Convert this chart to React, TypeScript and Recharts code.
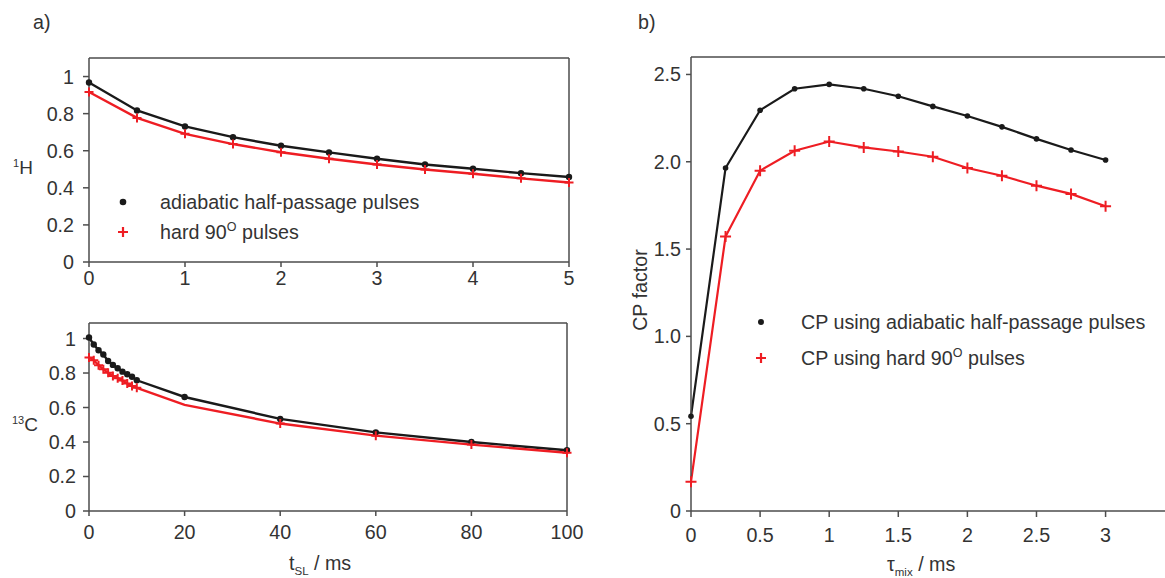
import React from "react";
import { LineChart, Line, XAxis, YAxis, ReferenceLine, Legend } from "recharts";

// a) upper panel, 1H
const tH = [0, 0.5, 1, 1.5, 2, 2.5, 3, 3.5, 4, 4.5, 5];
const hAdiabatic = [0.968, 0.817, 0.731, 0.673, 0.627, 0.591, 0.557, 0.526, 0.503, 0.479, 0.458];
const hHard = [0.917, 0.777, 0.691, 0.636, 0.592, 0.557, 0.526, 0.499, 0.476, 0.451, 0.429];
const hTicksX = [0, 1, 2, 3, 4, 5];
const aTicksY = [0, 0.2, 0.4, 0.6, 0.8, 1];

// a) lower panel, 13C
const tC = [0, 1, 2, 3, 4, 5, 6, 7, 8, 9, 10, 20, 40, 60, 80, 100];
const cAdiabatic = [1.006, 0.965, 0.932, 0.907, 0.87, 0.847, 0.828, 0.808, 0.793, 0.778, 0.758, 0.661, 0.534, 0.456, 0.4, 0.352];
const cHard = [0.89, 0.874, 0.845, 0.822, 0.801, 0.783, 0.77, 0.756, 0.739, 0.725, 0.714, 0.615, 0.507, 0.437, 0.385, 0.338];
const cTicksX = [0, 20, 40, 60, 80, 100];

// b) CP factor
const tMix = [0, 0.25, 0.5, 0.75, 1, 1.25, 1.5, 1.75, 2, 2.25, 2.5, 2.75, 3];
const cpAdiabatic = [0.543, 1.964, 2.295, 2.418, 2.443, 2.418, 2.375, 2.317, 2.262, 2.2, 2.131, 2.067, 2.01];
const cpHard = [0.168, 1.572, 1.949, 2.063, 2.116, 2.082, 2.059, 2.029, 1.964, 1.92, 1.863, 1.816, 1.745];
const bTicksX = [0, 0.5, 1, 1.5, 2, 2.5, 3];
const bTicksY = [0, 0.5, 1, 1.5, 2, 2.5];

const dataH = tH.map((t, i) => ({ t, adiabatic: hAdiabatic[i], hard: hHard[i] }));
const dataC = tC.map((t, i) => ({ t, adiabatic: cAdiabatic[i], hard: cHard[i] }));
const dataB = tMix.map((t, i) => ({ t, adiabatic: cpAdiabatic[i], hard: cpHard[i] }));

const BLACK = "#1a1a1a";
const RED = "#ee1d23";
const AXIS = "#4d4d4d";
const FONT = "'Liberation Sans', Arial, sans-serif";
const FS = 19.7;
const tickStyle = { fontSize: FS, fill: "#333", fontFamily: FONT };

const dotRenderer = (r: number) => (props: any) => {
  const { cx, cy, index } = props;
  if (cx == null || cy == null) return <g key={`d${index}`} />;
  return <circle key={`d${index}`} cx={cx} cy={cy} r={r} fill={BLACK} />;
};

const plusRenderer = (s: number, skip: number[] = []) => (props: any) => {
  const { cx, cy, index, payload } = props;
  if (cx == null || cy == null || skip.includes(payload.t)) return <g key={`p${index}`} />;
  return (
    <path
      key={`p${index}`}
      d={`M${cx - s},${cy}H${cx + s}M${cx},${cy - s}V${cy + s}`}
      stroke={RED}
      strokeWidth={2}
      fill="none"
    />
  );
};

function LegendBox({ rowGap, textX, big }: { rowGap: number; textX: number; big?: boolean }) {
  const y1 = 17;
  const y2 = y1 + rowGap;
  return (
    <svg width={420} height={y2 + 20} style={{ overflow: "visible" }}>
      <circle cx={13} cy={y1} r={big ? 3 : 3.3} fill={BLACK} />
      <path d={`M${13 - 5},${y2}H${13 + 5}M13,${y2 - 5}V${y2 + 5}`} stroke={RED} strokeWidth={2.2} />
      <text x={textX} y={y1 + 7} fontSize={FS} fill="#333" fontFamily={FONT}>
        {big ? "CP using adiabatic half-passage pulses" : "adiabatic half-passage pulses"}
      </text>
      <text x={textX} y={y2 + 7} fontSize={FS} fill="#333" fontFamily={FONT}>
        {big ? "CP using hard 90" : "hard 90"}
        <tspan fontSize={12.5} dy={-8}>O</tspan>
        <tspan dy={8}> pulses</tspan>
      </text>
    </svg>
  );
}

export default function App() {
  return (
    <div
      style={{
        position: "absolute",
        left: 0,
        top: 0,
        width: 1165,
        height: 578,
        overflow: "hidden",
        background: "#fff",
        fontFamily: FONT,
      }}
    >
      {/* a) 1H */}
      <div style={{ position: "absolute", left: 0, top: 0 }}>
        <LineChart width={600} height={300} data={dataH} margin={{ top: 58, right: 31, left: 0, bottom: 0 }}>
          <XAxis
            dataKey="t"
            type="number"
            domain={[0, 5]}
            ticks={hTicksX}
            interval={0}
            height={38}
            tickSize={5}
            tickMargin={4}
            tick={tickStyle}
            axisLine={{ stroke: AXIS, strokeWidth: 1.5 }}
            tickLine={{ stroke: AXIS, strokeWidth: 1.5 }}
          />
          <YAxis
            type="number"
            domain={[0, 1.1]}
            ticks={aTicksY}
            interval={0}
            width={89}
            tickSize={6}
            tickMargin={9}
            tick={tickStyle}
            axisLine={{ stroke: AXIS, strokeWidth: 1.5 }}
            tickLine={{ stroke: AXIS, strokeWidth: 1.5 }}
          />
          <ReferenceLine y={1.1} stroke={AXIS} strokeWidth={1.5} />
          <ReferenceLine x={5} stroke={AXIS} strokeWidth={1.5} />
          <Line
            dataKey="adiabatic"
            stroke={BLACK}
            strokeWidth={2.4}
            dot={dotRenderer(3.2)}
            activeDot={false}
            isAnimationActive={false}
          />
          <Line
            dataKey="hard"
            stroke={RED}
            strokeWidth={2.4}
            dot={plusRenderer(4.5)}
            activeDot={false}
            isAnimationActive={false}
          />
          <Legend
            layout="vertical"
            align="center"
            verticalAlign="middle"
            wrapperStyle={{ left: 110, top: 185, width: 420 }}
            content={() => <LegendBox rowGap={30} textX={50} />}
          />
        </LineChart>
      </div>

      {/* a) 13C */}
      <div style={{ position: "absolute", left: 0, top: 300 }}>
        <LineChart width={600} height={278} data={dataC} margin={{ top: 23, right: 33, left: 0, bottom: 0 }}>
          <XAxis
            dataKey="t"
            type="number"
            domain={[0, 100]}
            ticks={cTicksX}
            interval={0}
            height={67}
            tickSize={5}
            tickMargin={9}
            tick={tickStyle}
            axisLine={{ stroke: AXIS, strokeWidth: 1.5 }}
            tickLine={{ stroke: AXIS, strokeWidth: 1.5 }}
          />
          <YAxis
            type="number"
            domain={[0, 1.09]}
            ticks={aTicksY}
            interval={0}
            width={89}
            tickSize={6}
            tickMargin={7}
            tick={tickStyle}
            axisLine={{ stroke: AXIS, strokeWidth: 1.5 }}
            tickLine={{ stroke: AXIS, strokeWidth: 1.5 }}
          />
          <ReferenceLine y={1.09} stroke={AXIS} strokeWidth={1.5} />
          <ReferenceLine x={100} stroke={AXIS} strokeWidth={1.5} />
          <Line
            dataKey="adiabatic"
            stroke={BLACK}
            strokeWidth={2.4}
            dot={dotRenderer(3.2)}
            activeDot={false}
            isAnimationActive={false}
          />
          <Line
            dataKey="hard"
            stroke={RED}
            strokeWidth={2.4}
            dot={plusRenderer(4.5, [20])}
            activeDot={false}
            isAnimationActive={false}
          />
        </LineChart>
      </div>

      {/* b) CP factor */}
      <div style={{ position: "absolute", left: 600, top: 0 }}>
        <LineChart width={565} height={578} data={dataB} margin={{ top: 57, right: 0, left: 0, bottom: 0 }}>
          <XAxis
            dataKey="t"
            type="number"
            domain={[0, 3.43]}
            ticks={bTicksX}
            interval={0}
            height={67}
            tickSize={6}
            tickMargin={11}
            tick={tickStyle}
            axisLine={{ stroke: AXIS, strokeWidth: 1.5 }}
            tickLine={{ stroke: AXIS, strokeWidth: 1.5 }}
          />
          <YAxis
            type="number"
            domain={[0, 2.6]}
            ticks={bTicksY}
            interval={0}
            width={91}
            tickSize={5}
            tickMargin={5}
            tick={tickStyle}
            tickFormatter={(v: number) => (v === 0 ? "0" : v.toFixed(1))}
            axisLine={{ stroke: AXIS, strokeWidth: 1.5 }}
            tickLine={{ stroke: AXIS, strokeWidth: 1.5 }}
          />
          <ReferenceLine y={2.6} stroke={AXIS} strokeWidth={1.5} />
          <Line
            dataKey="adiabatic"
            stroke={BLACK}
            strokeWidth={2.2}
            dot={dotRenderer(2.8)}
            activeDot={false}
            isAnimationActive={false}
          />
          <Line
            dataKey="hard"
            stroke={RED}
            strokeWidth={2.2}
            dot={plusRenderer(5.5)}
            activeDot={false}
            isAnimationActive={false}
          />
          <Legend
            layout="vertical"
            align="center"
            verticalAlign="middle"
            wrapperStyle={{ left: 148, top: 305, width: 420 }}
            content={() => <LegendBox rowGap={36} textX={53} big />}
          />
        </LineChart>
      </div>

      {/* labels */}
      <svg
        width={1165}
        height={578}
        style={{ position: "absolute", left: 0, top: 0, pointerEvents: "none" }}
        fontFamily={FONT}
        fill="#333"
      >
        <text x={33} y={29} fontSize={FS}>a)</text>
        <text x={638} y={29} fontSize={FS}>b)</text>
        <text x={13} y={174} fontSize={19}>
          <tspan fontSize={11} dy={-7}>1</tspan>
          <tspan dy={7}>H</tspan>
        </text>
        <text x={12} y={431} fontSize={19}>
          <tspan fontSize={11} dy={-7}>13</tspan>
          <tspan dy={7}>C</tspan>
        </text>
        <text x={289} y={570} fontSize={FS}>
          t<tspan fontSize={11.5} dy={5}>SL</tspan>
          <tspan dy={-5}> / ms</tspan>
        </text>
        <text x={887} y={571} fontSize={FS}>
          τ<tspan fontSize={11.5} dy={5}>mix</tspan>
          <tspan dy={-5}> / ms</tspan>
        </text>
        <text x={647} y={290} fontSize={FS} textAnchor="middle" transform="rotate(-90 647 290)">
          CP factor
        </text>
      </svg>
    </div>
  );
}
